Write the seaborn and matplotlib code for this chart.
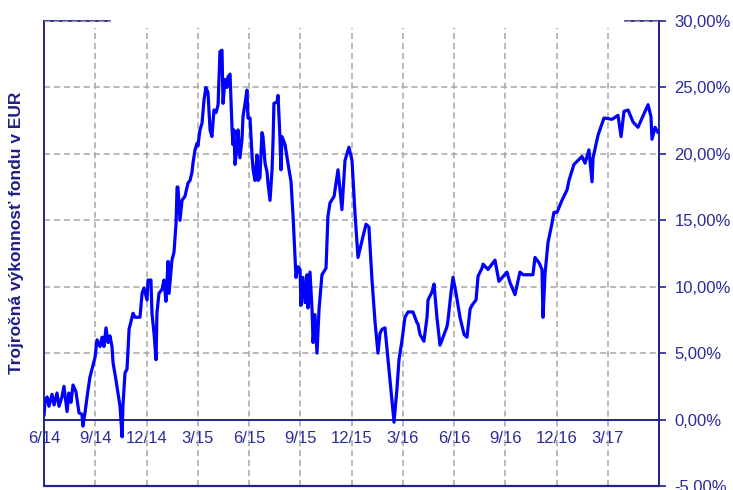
import matplotlib
matplotlib.use("Agg")
import matplotlib.pyplot as plt
import seaborn as sns
import pandas as pd

# months since June 2014
months = [0.00, 0.06, 0.18, 0.29, 0.47, 0.59, 0.76, 0.88, 1.05, 1.17, 1.35, 1.46, 1.58, 1.70, 1.87, 1.99,
          2.05, 2.22, 2.28, 2.40, 2.52, 2.69, 2.87, 2.99, 3.10, 3.28, 3.40, 3.51, 3.63, 3.75, 3.86, 3.98,
          4.04, 4.21, 4.33, 4.45, 4.57, 4.62, 4.74, 4.86, 4.98, 5.21, 5.33, 5.50, 5.62, 5.74, 5.85, 6.03,
          6.09, 6.26, 6.32, 6.44, 6.56, 6.61, 6.73, 6.91, 7.02, 7.14, 7.26, 7.32, 7.49, 7.61, 7.73, 7.79,
          7.84, 7.96, 8.08, 8.25, 8.43, 8.55, 8.66, 8.72, 8.84, 8.96, 9.01, 9.13, 9.25, 9.37, 9.48, 9.60,
          9.72, 9.83, 9.95, 10.07, 10.19, 10.30, 10.42, 10.48, 10.60, 10.71, 10.77, 10.89, 11.01, 11.06,
          11.12, 11.18, 11.30, 11.36, 11.47, 11.59, 11.65, 11.77, 11.88, 11.94, 12.06, 12.18, 12.24, 12.35,
          12.47, 12.53, 12.64, 12.76, 12.82, 12.94, 13.06, 13.11, 13.23, 13.35, 13.41, 13.46, 13.64, 13.70,
          13.81, 13.87, 13.93, 14.11, 14.28, 14.46, 14.58, 14.69, 14.75, 14.87, 14.99, 15.04, 15.16, 15.28,
          15.40, 15.45, 15.57, 15.69, 15.75, 15.86, 15.98, 16.10, 16.27, 16.51, 16.62, 16.74, 16.98, 17.21,
          17.44, 17.62, 17.85, 18.03, 18.20, 18.38, 18.62, 18.85, 19.02, 19.20, 19.38, 19.55, 19.67, 19.79,
          19.96, 20.14, 20.37, 20.49, 20.66, 20.78, 20.96, 21.13, 21.31, 21.60, 21.83, 21.89, 22.01, 22.24,
          22.42, 22.48, 22.71, 22.83, 23.00, 23.18, 23.36, 23.59, 23.65, 23.82, 23.94, 24.12, 24.35, 24.59,
          24.76, 24.94, 25.05, 25.29, 25.41, 25.64, 25.70, 25.99, 26.40, 26.63, 27.10, 27.28, 27.57, 27.86,
          28.04, 28.62, 28.74, 28.98, 29.15, 29.21, 29.33, 29.50, 29.74, 29.85, 30.03, 30.32, 30.62, 30.73,
          31.02, 31.49, 31.67, 31.90, 32.08, 32.14, 32.43, 32.78, 33.25, 33.60, 33.78, 33.95, 34.19, 34.48,
          34.77, 35.01, 35.36, 35.53, 35.59, 35.77, 35.94]

returns = [0.3, 1.3, 1.7, 1.0, 1.9, 1.1, 2.0, 1.0, 1.7, 2.5, 0.6, 2.0, 1.3, 2.6, 2.1, 1.0,
           0.5, 0.4, -0.5, 0.5, 1.7, 3.2, 4.1, 4.7, 6.0, 5.5, 6.2, 5.5, 6.9, 5.8, 6.3, 5.5,
           4.3, 3.0, 2.0, 1.0, -1.3, 1.0, 3.5, 3.8, 6.8, 8.0, 7.7, 7.7, 7.7, 9.5, 9.9, 9.0,
           10.5, 10.5, 8.0, 6.5, 4.5, 8.0, 9.5, 9.8, 10.5, 8.9, 11.9, 9.5, 12.0, 12.6, 14.8, 17.5,
           17.5, 15.0, 16.5, 16.8, 17.8, 18.0, 18.6, 19.3, 20.3, 20.8, 20.6, 21.8, 22.3, 24.1, 25.0, 24.6,
           21.8, 21.3, 23.3, 23.1, 23.7, 27.7, 27.8, 23.8, 25.6, 25.0, 25.8, 26.0, 21.8, 20.7,
           21.8, 19.2, 20.5, 21.8, 19.7, 21.1, 22.8, 23.8, 24.8, 22.7, 22.7, 19.8, 18.8, 18.0,
           19.9, 18.0, 18.2, 21.6, 21.3, 19.3, 18.6, 17.8, 16.5, 18.8, 21.1, 23.8, 23.9, 24.4,
           21.3, 18.8, 21.3, 20.7, 19.3, 17.9, 15.3, 12.3, 10.7, 11.5, 11.3, 8.6, 10.7, 8.8,
           10.9, 8.4, 11.1, 8.3, 5.8, 7.9, 5.0, 8.3, 10.9, 11.4, 15.3, 16.3, 16.8, 18.8,
           15.8, 19.5, 20.5, 19.5, 15.6, 12.2, 13.5, 14.7, 14.5, 10.5, 7.3, 5.0, 6.5, 6.8,
           6.9, 4.5, 1.5, -0.2, 2.3, 4.5, 6.0, 7.7, 8.1, 8.1, 7.3, 7.2, 6.4, 5.9,
           7.7, 9.0, 9.6, 10.2, 7.7, 5.6, 6.2, 7.0, 7.5, 9.5, 10.7, 9.5, 7.7, 6.4,
           6.2, 8.3, 8.6, 9.0, 10.8, 11.4, 11.7, 11.3, 12.0, 10.4, 11.1, 10.3, 9.4, 11.1,
           10.9, 10.9, 12.2, 11.8, 11.3, 7.7, 11.0, 13.3, 14.8, 15.6, 15.6, 16.5, 17.3, 18.0,
           19.2, 19.8, 19.3, 20.3, 17.9, 19.7, 21.4, 22.7, 22.6, 22.9, 21.3, 23.2, 23.3, 22.4,
           22.0, 22.7, 23.7, 22.8, 21.1, 22.0, 21.6]

tick_months = [0, 3, 6, 9, 12, 15, 18, 21, 24, 27, 30, 33]
tick_labels = ["6/14", "9/14", "12/14", "3/15", "6/15", "9/15", "12/15", "3/16", "6/16", "9/16", "12/16", "3/17"]
y_ticks = [-5, 0, 5, 10, 15, 20, 25, 30]
y_label = "Trojročná výkonnosť fondu v EUR"

NAVY = "#22228C"
TXT = "#2B2B9A"
GRID = "#A6A6A6"

sns.set_style("white")
plt.rcParams["font.family"] = ["Liberation Sans", "DejaVu Sans"]

df = pd.DataFrame({"m": months, "r": returns})

fig = plt.figure(figsize=(7.33, 4.90), dpi=100)
ax = fig.add_axes([44 / 733, 1 - 486 / 490, 615 / 733, 465 / 490])

# grid
for yv in [5, 10, 15, 20, 25]:
    ax.axhline(yv, color=GRID, lw=1.1, ls=(0, (4, 2.5)), zorder=1)
for xv in tick_months[1:]:
    ax.axvline(xv, ymin=0, ymax=0.985, color=GRID, lw=1.1, ls=(0, (4, 2.5)), zorder=1)

# top corner fragments
ax.axhline(30, xmin=0, xmax=0.107, color=NAVY, lw=1.3, zorder=2, clip_on=False)
ax.axhline(30, xmin=0.945, xmax=1, color=NAVY, lw=1.3, zorder=2, clip_on=False)
ax.axhline(30, xmin=0, xmax=0.107, color=GRID, lw=1.0, ls=(0, (4, 2.5)), zorder=3, clip_on=False)
ax.axhline(30, xmin=0.945, xmax=1, color=GRID, lw=1.0, ls=(0, (4, 2.5)), zorder=3, clip_on=False)

sns.lineplot(data=df, x="m", y="r", ax=ax, color="#0000FF", lw=2.3, sort=False,
             estimator=None, zorder=5)

ax.set_xlim(0, 36)
ax.set_ylim(-5, 30)

# axes styling
ax.spines["top"].set_visible(False)
ax.spines["bottom"].set_position(("data", 0))
for s in ["left", "right", "bottom"]:
    ax.spines[s].set_color(NAVY)
    ax.spines[s].set_linewidth(1.4)
ax.axhline(-5, color=NAVY, lw=1.6, clip_on=False, zorder=6)

ax.set_xticks(tick_months)
ax.set_xticklabels(tick_labels)
ax.tick_params(axis="x", direction="out", length=4, width=1.2, color=NAVY,
               labelsize=12, labelcolor=TXT, pad=4)

ax.yaxis.tick_right()
ax.set_yticks(y_ticks)
ax.set_yticklabels([f"{v:.2f}".replace(".", ",") + "%" for v in y_ticks])
ax.tick_params(axis="y", direction="out", length=5, width=1.2, color=NAVY,
               labelsize=12, labelcolor=TXT, pad=6)

ax.set_xlabel("")
ax.set_ylabel("")
fig.text(17 / 733, 1 - 233 / 490, y_label, rotation=90, ha="center", va="center",
         fontsize=12.5, fontweight="bold", color="#1E1E86")

fig.savefig("out.png", dpi=100)
